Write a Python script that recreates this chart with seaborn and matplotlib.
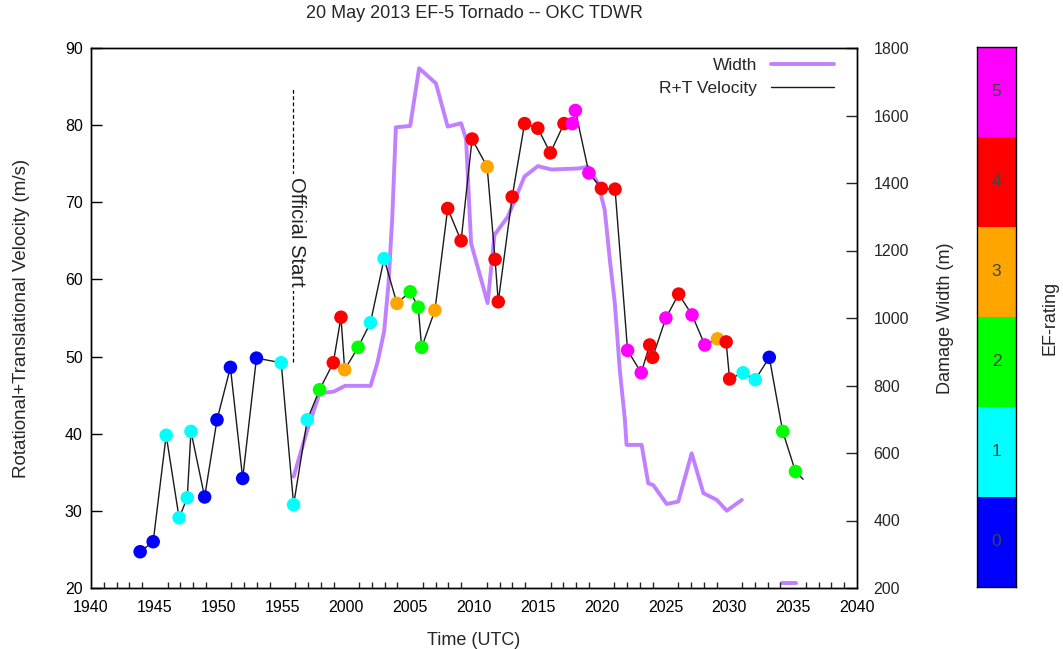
import numpy as np
import pandas as pd
import matplotlib
matplotlib.use("Agg")
import matplotlib.pyplot as plt
from matplotlib.colors import ListedColormap
from matplotlib.ticker import MultipleLocator, FixedLocator
import seaborn as sns

# ---------------- data ----------------
# time in minutes after 19:40 UTC
vel_time = [3.85, 4.87, 5.89, 6.90, 7.54, 7.83, 8.90, 9.87, 10.92, 11.88, 12.96,
            14.90, 15.87, 16.94, 17.90, 18.98, 19.58, 19.87, 20.92, 21.89, 22.96,
            23.96, 25.00, 25.63, 25.90, 26.94, 27.94, 28.99, 29.85, 31.03, 31.65,
            31.90, 32.99, 33.96, 35.00, 35.98, 37.05, 37.70, 37.94, 39.00, 39.98,
            41.05, 42.03, 43.10, 43.76, 43.99, 45.03, 46.03, 47.08, 48.08, 49.07,
            49.75, 50.02, 51.08, 52.03, 53.13, 54.18, 55.18, 55.78]
velocity = [24.7, 26.0, 39.8, 29.1, 31.7, 40.3, 31.8, 41.8, 48.6, 34.2, 49.8,
            49.2, 30.8, 41.8, 45.7, 49.2, 55.1, 48.3, 51.2, 54.4, 62.7,
            56.9, 58.4, 56.4, 51.2, 56.0, 69.2, 65.0, 78.2, 74.6, 62.6,
            57.1, 70.7, 80.2, 79.6, 76.4, 80.2, 80.2, 81.9, 73.8, 71.8,
            71.7, 50.8, 47.9, 51.5, 49.9, 55.0, 58.1, 55.4, 51.5, 52.3,
            51.9, 47.1, 47.9, 47.0, 49.9, 40.3, 35.1, 34.1]
ef_rating = [0, 0, 1, 1, 1, 1, 0, 0, 0, 0, 0,
             1, 1, 1, 2, 4, 4, 3, 2, 1, 1,
             3, 2, 2, 2, 3, 4, 4, 4, 3, 4,
             4, 4, 4, 4, 4, 4, 5, 5, 5, 4,
             4, 5, 5, 4, 4, 5, 4, 5, 5, 3,
             4, 4, 1, 1, 0, 2, 2, np.nan]

width_time = [15.87, 16.94, 17.90, 19.03, 19.90, 21.90, 22.45, 22.96, 23.30, 23.60,
              23.88, 25.00, 25.70, 27.02, 27.94, 28.99, 29.38, 29.77, 31.07, 31.60,
              32.65, 33.95, 35.00, 36.06, 38.15, 38.93, 39.72, 40.24, 40.64, 41.03,
              41.42, 41.82, 41.95, 43.13, 43.65, 44.04, 45.09, 46.00, 47.05, 47.97,
              49.02, 49.80, 50.98]
width_m = [530, 668, 777, 782, 799, 799, 870, 960, 1100, 1300,
           1565, 1569, 1740, 1695, 1567, 1577, 1530, 1222, 1044, 1246,
           1300, 1419, 1450, 1440, 1443, 1448, 1399, 1320, 1172, 1044,
           846, 698, 624, 624, 510, 505, 449, 456, 599, 481,
           461, 429, 461]
width_time_late = [54.12, 55.24]
width_m_late = [214, 214]

x_tick_labels = ["1940", "1945", "1950", "1955", "2000", "2005", "2010",
                 "2015", "2020", "2025", "2030", "2035", "2040"]
ef_levels = [0, 1, 2, 3, 4, 5]
ef_colors = ["#0000ff", "#00ffff", "#00ff00", "#ffa500", "#ff0000", "#ff00ff"]
official_start = 15.81

# ---------------- style ----------------
sns.set_style("white")
plt.rcParams["font.family"] = ["Liberation Sans", "DejaVu Sans"]
plt.rcParams["font.size"] = 11

fig = plt.figure(figsize=(10.63, 6.49), dpi=100)
ax = fig.add_axes([91/1063, 1 - 588/649, (857-91)/1063, (588-48)/649])
ax2 = ax.twinx()
ax.set_zorder(ax2.get_zorder() + 1)
ax.patch.set_visible(False)

vel_df = pd.DataFrame({"time": vel_time, "velocity": velocity, "ef": ef_rating})
w_df = pd.DataFrame({"time": width_time, "width": width_m})
w2_df = pd.DataFrame({"time": width_time_late, "width": width_m_late})

purple = "#c080ff"
sns.lineplot(data=w_df, x="time", y="width", ax=ax2, color=purple, lw=2.8,
             sort=False, estimator=None, label="Width", legend=False)
sns.lineplot(data=w2_df, x="time", y="width", ax=ax2, color=purple, lw=2.8,
             sort=False, estimator=None, legend=False)

sns.lineplot(data=vel_df, x="time", y="velocity", ax=ax, color="#1a1a1a", lw=1.0,
             sort=False, estimator=None, label="R+T Velocity", legend=False)
pal = {lvl: c for lvl, c in zip(ef_levels, ef_colors)}
pts = vel_df.dropna(subset=["ef"]).copy()
pts["ef"] = pts["ef"].astype(int)
sns.scatterplot(data=pts, x="time", y="velocity", hue="ef", palette=pal, ax=ax,
                s=95, edgecolor="none", legend=False, zorder=5)

# official start marker
ax.vlines(official_start, 49.3, 85.0, colors="black", linestyles=(0, (3, 2)), lw=0.9)
ax.text(official_start + 0.25, 66.1, "Official Start", rotation=-90, ha="center",
        va="center", fontsize=14.5, color="#222222",
        bbox=dict(facecolor="white", edgecolor="none", pad=2.5))

# axes limits / ticks
ax.set_xlim(0, 60)
ax.set_ylim(20, 90)
ax2.set_ylim(200, 1800)
ax.xaxis.set_major_locator(FixedLocator(np.arange(0, 61, 5)))
ax.set_xticklabels(x_tick_labels)
ax.yaxis.set_major_locator(MultipleLocator(10))
ax2.yaxis.set_major_locator(MultipleLocator(200))
ax.minorticks_on()
ax.xaxis.set_minor_locator(MultipleLocator(1))
ax.tick_params(axis="both", which="major", direction="in", length=8, width=1,
               labelsize=11.5, colors="black", top=False, right=False, pad=6)
ax.tick_params(axis="x", which="major", pad=9)
ax.tick_params(axis="x", which="minor", direction="in", length=4, width=1,
               bottom=True, top=False)
ax.tick_params(axis="y", which="minor", left=False, right=False)
ax2.tick_params(axis="y", which="major", direction="in", length=8, width=1,
                labelsize=11.5, pad=12)
ax2.tick_params(axis="y", which="minor", right=False)

for a in (ax, ax2):
    for s in a.spines.values():
        s.set_color("black")
        s.set_linewidth(1.0)

ax.set_xlabel("Time (UTC)", fontsize=13, labelpad=12)
ax.set_ylabel("Rotational+Translational Velocity (m/s)", fontsize=13.5, labelpad=25)
ax2.set_ylabel("Damage Width (m)", fontsize=13, labelpad=20)
fig.text((91+857)/2/1063, 1 - 14/649, "20 May 2013 EF-5 Tornado -- OKC TDWR",
         ha="center", va="center", fontsize=13)

# legend (handle after text)
h1, l1 = ax2.get_legend_handles_labels()
h2, l2 = ax.get_legend_handles_labels()
leg = ax.legend(h1 + h2, l1 + l2, loc="upper right", bbox_to_anchor=(0.99, 1.01),
                frameon=False, markerfirst=False, handlelength=3.6, fontsize=12.5,
                labelspacing=0.45, handletextpad=0.8)

# EF-rating colour bar drawn as a heatmap
cax = fig.add_axes([977/1063, 1 - 587/649, 39/1063, 540/649])
cb_vals = np.array(ef_levels[::-1]).reshape(-1, 1)
sns.heatmap(cb_vals, ax=cax, cmap=ListedColormap(ef_colors), vmin=-0.5, vmax=5.5,
            cbar=False, annot=cb_vals.astype(str), fmt="",
            annot_kws={"color": "#444444", "fontsize": 12.5})
cax.set_xticks([])
cax.set_yticks([])
cax.set_xlabel("")
cax.set_ylabel("")
for s in cax.spines.values():
    s.set_visible(True)
    s.set_color("black")
    s.set_linewidth(1.0)
fig.text(1050/1063, 1 - 318/649, "EF-rating", rotation=90, ha="center",
         va="center", fontsize=13)

fig.savefig("out.png", dpi=100)
